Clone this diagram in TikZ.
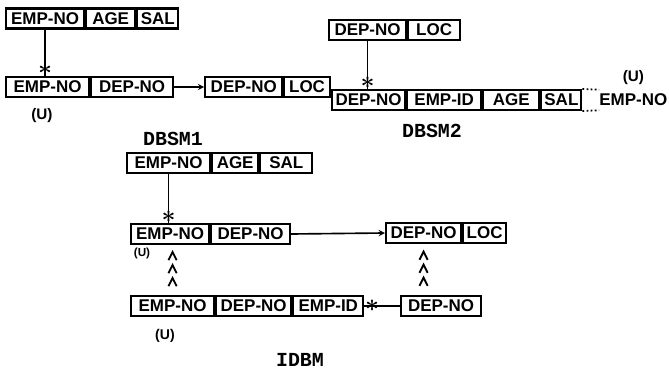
\documentclass[tikz,border=0pt]{standalone}
\usepackage{fontspec}
\setmainfont{Liberation Sans}
\newfontfamily\labelfont{Liberation Mono}
\usetikzlibrary{positioning, arrows, decorations.markings}

\tikzstyle{field} = [
    rectangle,
    draw=black,
    line width=1.8pt,
    minimum height=0.6cm,
    inner sep=0pt,
    font=\bfseries\fontsize{14.5}{14.5}\selectfont
]
\tikzstyle{virtual} = [
    rectangle,
    minimum height=0.6cm,
    inner sep=0pt,
    font=\bfseries\fontsize{14.5}{14.5}\selectfont
]
\tikzstyle{link} = [line width=1.4pt]
\tikzstyle{arrow} = [line width=1.4pt,->,>=stealth]
\tikzstyle{ast} = [inner sep=0pt, font=\huge\boldmath]
\tikzstyle{upd} = [inner sep=0pt, font=\bfseries\fontsize{13}{13}\selectfont]
\tikzstyle{title} = [inner sep=0pt, font=\labelfont\bfseries\fontsize{17}{17}\selectfont]
\tikzstyle{chevrons} = [
    decoration={markings,
        mark=between positions 0.34 and 0.9 step 0.39cm with
        {\draw[line width=1.6pt] (-7pt,-3.5pt) -- (0pt,0pt) -- (-7pt,3.5pt);}},
    postaction=decorate
]

\begin{document}
\begin{tikzpicture}[x=0.03cm, y=-0.03cm]
\useasboundingbox (0,0) rectangle (669,369);

% DBSM1
\node (r1top-emp) [field, anchor=west, minimum width=2.34cm] at (5,18.5) {EMP-NO};
\node (r1top-age) [field, right=0pt of r1top-emp, minimum width=1.47cm] {AGE};
\node (r1top-sal) [field, right=0pt of r1top-age, minimum width=1.23cm] {SAL};

\node (r1low-emp) [field, anchor=west, minimum width=2.49cm] at (5,87) {EMP-NO};
\node (r1low-dep) [field, right=0pt of r1low-emp, minimum width=2.46cm] {DEP-NO};

\node (r1dep-dep) [field, right=0.9cm of r1low-dep, minimum width=2.31cm] {DEP-NO};
\node (r1dep-loc) [field, right=0pt of r1dep-dep, minimum width=1.36cm] {LOC};

\node (r1u) [upd, below=0.3cm of r1low-emp, xshift=-0.17cm] {(U)};
\node (dbsm1) [title] at (173,139) {DBSM1};

\draw [link] (r1top-emp.south) -- (r1top-emp.south |- r1low-emp.north)
    node [ast, above] {$\ast$};
\draw [arrow] (r1low-dep.east) -- (r1dep-dep.west);

% DBSM2
\node (r2top-dep) [field, anchor=west, minimum width=2.31cm] at (328,30) {DEP-NO};
\node (r2top-loc) [field, right=0pt of r2top-dep, minimum width=1.56cm] {LOC};

\node (r2low-dep) [field, anchor=west, minimum width=2.19cm] at (331,100) {DEP-NO};
\node (r2low-id) [field, right=0pt of r2low-dep, minimum width=2.22cm] {EMP-ID};
\node (r2low-age) [field, right=0pt of r2low-id, minimum width=1.68cm] {AGE};
\node (r2low-sal) [field, right=0pt of r2low-age, minimum width=1.2cm] {SAL};
\node (r2emp) [virtual, right=0.5cm of r2low-sal] {EMP-NO};

\node (r2u) [upd, above=0.15cm of r2emp] {(U)};
\node (dbsm2) [title] at (432,131) {DBSM2};

\draw [link] (r2top-dep.south) -- (r2top-dep.south |- r2low-dep.north)
    node [ast, above] {$\ast$};
\draw [dotted, line width=1.5pt] (r2low-sal.north east) -- (r2emp.north west);
\draw [dotted, line width=1.5pt] (r2low-sal.south east) -- (r2emp.south west);

% IDBM
\node (r3top-emp) [field, anchor=west, minimum width=2.49cm] at (126,163) {EMP-NO};
\node (r3top-age) [field, right=0pt of r3top-emp, minimum width=1.38cm] {AGE};
\node (r3top-sal) [field, right=0pt of r3top-age, minimum width=1.56cm] {SAL};

\node (r3mid-emp) [field, anchor=west, minimum width=2.34cm] at (130,234) {EMP-NO};
\node (r3mid-dep) [field, right=0pt of r3mid-emp, minimum width=2.37cm] {DEP-NO};

\node (r3dep-dep) [field, anchor=west, minimum width=2.25cm] at (385,233) {DEP-NO};
\node (r3dep-loc) [field, right=0pt of r3dep-dep, minimum width=1.29cm] {LOC};

\node (r3low-emp) [field, anchor=west, minimum width=2.49cm] at (130,306) {EMP-NO};
\node (r3low-dep) [field, right=0pt of r3low-emp, minimum width=2.25cm] {DEP-NO};
\node (r3low-id) [field, right=0pt of r3low-dep, minimum width=2.1cm] {EMP-ID};

\node (r3key) [field, anchor=west, minimum width=2.4cm] at (400,306) {DEP-NO};

\node (r3u1) [upd, font=\bfseries\fontsize{10}{10}\selectfont] at (142,253) {(U)};
\node (r3u2) [upd, font=\bfseries\fontsize{12}{12}\selectfont] at (165,336) {(U)};
\node (idbm) [title] at (300,360) {IDBM};

\draw [link] (r3top-emp.south) -- (r3top-emp.south |- r3mid-emp.north)
    node [ast, above] {$\ast$};
\draw [arrow] (r3mid-dep.east) -- (r3dep-dep.west);
\path [chevrons] (r3low-emp.north) -- (r3low-emp.north |- r3mid-emp.south);
\path [chevrons] (r3dep-dep.south |- r3key.north) -- (r3dep-dep.south);
\draw [link] (r3key.west) -- (r3low-id.east)
    node [ast, right] {$\ast$};

\end{tikzpicture}
\end{document}
